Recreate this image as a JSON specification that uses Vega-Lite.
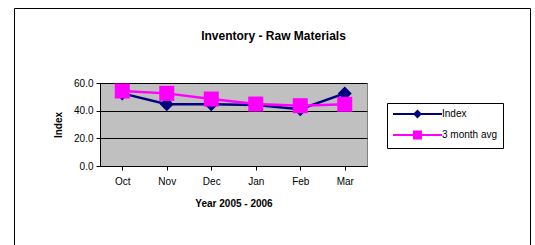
{
  "$schema": "https://vega.github.io/schema/vega-lite/v6.json",
  "width": 267,
  "height": 83,
  "autosize": {"type": "none"},
  "padding": {"left": 100, "top": 83, "right": 168, "bottom": 79},
  "background": "white",
  "title": {
    "text": "Inventory - Raw Materials",
    "font": "Liberation Sans",
    "fontSize": 12,
    "fontWeight": "bold",
    "color": "black",
    "anchor": "middle",
    "baseline": "alphabetic",
    "offset": -44,
    "dx": 40
  },
  "config": {
    "view": {"fill": "#C0C0C0", "stroke": "#808080", "strokeWidth": 1},
    "font": "Liberation Sans"
  },
  "data": {
    "values": [
      {"month": "Oct", "series": "Index", "value": 52.5},
      {"month": "Nov", "series": "Index", "value": 44.6},
      {"month": "Dec", "series": "Index", "value": 44.6},
      {"month": "Jan", "series": "Index", "value": 44.1},
      {"month": "Feb", "series": "Index", "value": 41.0},
      {"month": "Mar", "series": "Index", "value": 52.5},
      {"month": "Oct", "series": "3 month avg", "value": 54.2},
      {"month": "Nov", "series": "3 month avg", "value": 52.5},
      {"month": "Dec", "series": "3 month avg", "value": 48.4},
      {"month": "Jan", "series": "3 month avg", "value": 44.8},
      {"month": "Feb", "series": "3 month avg", "value": 43.6},
      {"month": "Mar", "series": "3 month avg", "value": 44.6}
    ]
  },
  "encoding": {
    "x": {
      "field": "month",
      "type": "nominal",
      "sort": ["Oct", "Nov", "Dec", "Jan", "Feb", "Mar"],
      "scale": {"paddingInner": 0, "paddingOuter": 0},
      "axis": {
        "title": "Year 2005 - 2006",
        "titleFont": "Liberation Sans",
        "titleFontSize": 10,
        "titleFontWeight": "bold",
        "titleColor": "black",
        "titlePadding": 12,
        "labelFont": "Liberation Sans",
        "labelFontSize": 10,
        "labelColor": "black",
        "labelAngle": 0,
        "labelPadding": 6,
        "domainColor": "black",
        "domainWidth": 1,
        "tickColor": "black",
        "tickSize": 4,
        "bandPosition": 0,
        "grid": false
      }
    },
    "y": {
      "field": "value",
      "type": "quantitative",
      "scale": {"domain": [0, 60], "nice": false},
      "axis": {
        "title": "Index",
        "titleFont": "Liberation Sans",
        "titleFontSize": 10,
        "titleFontWeight": "bold",
        "titleColor": "black",
        "titlePadding": 10,
        "values": [0, 20, 40, 60],
        "format": ".1f",
        "labelFont": "Liberation Sans",
        "labelFontSize": 10,
        "labelColor": "black",
        "labelPadding": 3,
        "domainColor": "black",
        "tickColor": "black",
        "tickSize": 4,
        "grid": true,
        "gridColor": "black",
        "gridOpacity": 1,
        "gridWidth": 1
      }
    },
    "color": {
      "field": "series",
      "type": "nominal",
      "scale": {"domain": ["Index", "3 month avg"], "range": ["#000080", "#FF00FF"]},
      "legend": {
        "title": null,
        "orient": "none",
        "legendX": 287,
        "legendY": 20,
        "strokeColor": "black",
        "fillColor": "white",
        "padding": 5,
        "rowPadding": 6,
        "labelFont": "Liberation Sans",
        "labelFontSize": 10,
        "labelColor": "black",
        "labelOffset": 38,
        "symbolSize": 100,
        "symbolStrokeWidth": 2,
        "symbolType": "M-1,0L8.8,0",
        "encode": {
          "symbols": {
            "update": {
              "shape": {"signal": "datum.value === 'Index' ? 'M-1,0L8.8,0M3.3,0L3.9,-0.6L4.5,0L3.9,0.6Z' : 'M-1,0L8.8,0M3.2,-0.7L4.6,-0.7L4.6,0.7L3.2,0.7Z'"},
              "fill": {"signal": "datum.value === 'Index' ? '#000080' : '#FF00FF'"},
              "fillOpacity": {"value": 1}
            }
          }
        }
      }
    }
  },
  "layer": [
    {
      "transform": [{"filter": "datum.series === 'Index'"}],
      "mark": {"type": "line", "strokeWidth": 2.5}
    },
    {
      "transform": [{"filter": "datum.series === 'Index'"}],
      "mark": {"type": "point", "shape": "diamond", "filled": true, "size": 196, "opacity": 1}
    },
    {
      "transform": [{"filter": "datum.series === '3 month avg'"}],
      "mark": {"type": "line", "strokeWidth": 2.5}
    },
    {
      "transform": [{"filter": "datum.series === '3 month avg'"}],
      "mark": {"type": "point", "shape": "square", "filled": true, "size": 225, "opacity": 1}
    },
    {
      "transform": [{"filter": "datum.series === 'Index' && datum.month === 'Oct'"}],
      "mark": {"type": "point", "opacity": 0},
      "encoding": {
        "strokeDash": {
          "datum": "frame",
          "type": "nominal",
          "legend": {
            "title": null,
            "orient": "none",
            "legendX": -86,
            "legendY": -75,
            "padding": 253,
            "strokeColor": "black",
            "symbolOpacity": 0,
            "symbolStrokeWidth": 0,
            "symbolSize": 1,
            "labelExpr": "''",
            "labelOffset": 0
          }
        }
      }
    }
  ]
}
